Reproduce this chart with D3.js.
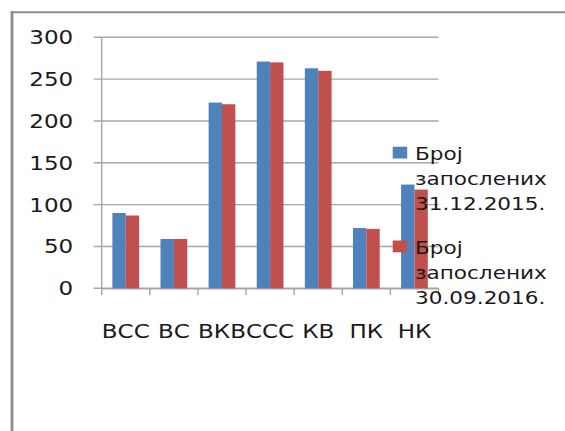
<!DOCTYPE html>
<html><head><meta charset="utf-8">
<script src="https://cdn.jsdelivr.net/npm/d3@7"></script>
<style>html,body{margin:0;padding:0;background:#fff;}svg{display:block;}</style>
</head><body>
<script>
const categories = ["ВСС","ВС","ВКВ","ССС","КВ","ПК","НК"];
const series = ["Број запослених 31.12.2015.","Број запослених 30.09.2016."];
const legendLines = [["Број","запослених","31.12.2015."],["Број","запослених","30.09.2016."]];
const values2015 = [90, 59, 222, 271, 263, 72, 124];
const values2016 = [87, 59, 220, 270, 260, 71, 118];
const yTicks = [0, 50, 100, 150, 200, 250, 300];
const colors = ["#4F81BD", "#C0504D"];

(function () {
const W = 565, H = 431;
const SX = 1.18; // horizontal stretch of the original picture's text
const svg = d3.select("body").append("svg").attr("width", W).attr("height", H);

// outer frame (left and top edges visible)
svg.append("line").attr("x1", 12).attr("x2", 12).attr("y1", 11).attr("y2", H)
  .attr("stroke", "#8c8c8c").attr("stroke-width", 2.8);
svg.append("line").attr("x1", 11).attr("x2", W).attr("y1", 12.3).attr("y2", 12.3)
  .attr("stroke", "#8c8c8c").attr("stroke-width", 2);

const pLeft = 101.7, pRight = 438.5, pTop = 37.3, pBottom = 288.3;
const x = d3.scaleBand().domain(categories).range([pLeft, pRight]).padding(0);
const xi = d3.scaleBand().domain([0, 1]).range([0, x.bandwidth()]).paddingInner(0).paddingOuter(0.8);
const y = d3.scaleLinear().domain([0, 300]).range([pBottom, pTop]);

const gridColor = "#a6a6a6";
// gridlines
svg.append("g").selectAll("line").data(yTicks).join("line")
  .attr("x1", pLeft - 8).attr("x2", pRight)
  .attr("y1", d => y(d)).attr("y2", d => y(d))
  .attr("stroke", gridColor).attr("stroke-width", 1.4);

// y axis line
svg.append("line").attr("x1", pLeft).attr("x2", pLeft).attr("y1", pTop).attr("y2", pBottom)
  .attr("stroke", gridColor).attr("stroke-width", 1.4);

// x axis via d3 axis
const xAxis = svg.append("g").attr("transform", `translate(0,${pBottom})`)
  .call(d3.axisBottom(x).tickSizeInner(0).tickSizeOuter(0).tickFormat(""));
xAxis.select(".domain").attr("stroke", gridColor).attr("stroke-width", 1.4);
xAxis.selectAll(".tick").remove();
// x tick marks at band boundaries
const bounds = categories.map(c => x(c)).concat([pRight]);
svg.append("g").selectAll("line").data(bounds).join("line")
  .attr("x1", d => d).attr("x2", d => d).attr("y1", pBottom).attr("y2", pBottom + 7)
  .attr("stroke", gridColor).attr("stroke-width", 1.4);

// y labels
svg.append("g").selectAll("text").data(yTicks).join("text")
  .attr("transform", d => `translate(${pLeft - 28.5},${y(d)}) scale(${SX},1)`)
  .attr("dy", "0.36em").attr("text-anchor", "end")
  .attr("font-family", "DejaVu Sans, Verdana, sans-serif").attr("font-size", 19.5)
  .attr("fill", "#1a1a1a").text(d => d);

// x labels
svg.append("g").selectAll("text").data(categories).join("text")
  .attr("transform", d => `translate(${x(d) + x.bandwidth() / 2},338) scale(${SX},1)`)
  .attr("text-anchor", "middle")
  .attr("font-family", "DejaVu Sans, Verdana, sans-serif").attr("font-size", 19.5)
  .attr("fill", "#1a1a1a").text(d => d);

// bars
const data = [values2015, values2016];
data.forEach((vals, si) => {
  svg.append("g").selectAll("rect").data(categories).join("rect")
    .attr("x", (c) => x(c) + xi(si))
    .attr("width", xi.bandwidth())
    .attr("y", (c, i) => y(vals[i]))
    .attr("height", (c, i) => y(0) - y(vals[i]))
    .attr("fill", colors[si]);
});

// legend
const legY = [146.7, 240.5];
legendLines.forEach((lines, si) => {
  const g = svg.append("g");
  g.append("rect").attr("x", 392.7).attr("y", legY[si]).attr("width", 14.5).attr("height", 11.8)
    .attr("fill", colors[si]);
  lines.forEach((t, li) => {
    g.append("text")
      .attr("transform", `translate(415,${legY[si] + 13.3 + li * 25}) scale(${SX},1)`)
      .attr("font-family", "DejaVu Sans, Verdana, sans-serif").attr("font-size", 18.3)
      .attr("fill", "#1a1a1a").text(t);
  });
});
})();
</script>
</body></html>
